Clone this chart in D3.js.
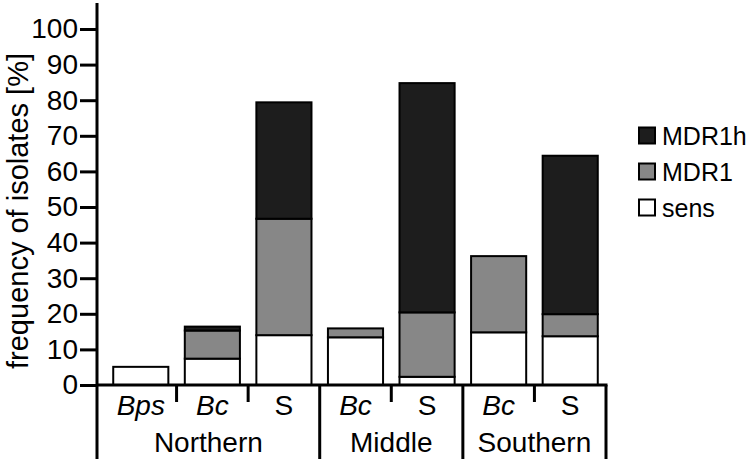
<!DOCTYPE html>
<html><head><meta charset="utf-8">
<script src="https://cdn.jsdelivr.net/npm/d3@7"></script>
<style>body{margin:0;background:#fff}svg{display:block}text{font-family:"Liberation Sans",Arial,sans-serif;fill:#000}</style>
</head><body><svg id="c" width="750" height="464"></svg>
<script>
const categories = ["Bps","Bc","S","Bc","S","Bc","S"];
const groups = ["Northern","Northern","Northern","Middle","Middle","Southern","Southern"];
const sens  = [5.1, 7.4, 14.0, 13.4, 2.3, 14.8, 13.7];
const mdr1  = [0, 7.9, 32.7, 2.5, 18.1, 21.4, 6.2];
const mdr1h = [0, 1.1, 32.7, 0, 64.4, 0, 44.5];
const yTicks = [0,10,20,30,40,50,60,70,80,90,100];
const seriesNames = ["sens","MDR1","MDR1h"];
const colors = {sens:"#ffffff", MDR1:"#878787", MDR1h:"#1d1d1d"};

const svg = d3.select("#c");
const x = d3.scaleBand().domain(d3.range(categories.length)).range([105, 606]).paddingInner(0.23).paddingOuter(0.115);
const y = d3.scaleLinear().domain([0,100]).range([385, 29]);

const rows = categories.map((c,i)=>({sens:sens[i], MDR1:mdr1[i], MDR1h:mdr1h[i]}));
const stack = d3.stack().keys(seriesNames)(rows);

// bars
stack.forEach(layer=>{
  svg.append("g").selectAll("rect").data(layer.map((d,i)=>({d,i}))).join("rect")
    .filter(o=>o.d[1]-o.d[0]>0)
    .attr("x",o=>x(o.i)).attr("width",x.bandwidth())
    .attr("y",o=>y(o.d[1])).attr("height",o=>y(o.d[0])-y(o.d[1]))
    .attr("fill",colors[layer.key]).attr("stroke","#000").attr("stroke-width",2);
});

// y axis
const yAxis = svg.append("g").attr("transform","translate(97,0)")
  .call(d3.axisLeft(y).tickValues(yTicks).tickSize(17).tickPadding(2));
yAxis.select(".domain").remove();
yAxis.selectAll(".tick line").attr("stroke","#000").attr("stroke-width",3);
yAxis.selectAll(".tick text").style("font-size","28px").attr("font-family",null);
svg.append("line").attr("x1",97).attr("x2",97).attr("y1",3).attr("y2",459).attr("stroke","#000").attr("stroke-width",3);

// x baseline
const xEnd = x.range()[1];
svg.append("line").attr("x1",96).attr("x2",xEnd+1.5).attr("y1",y(0)).attr("y2",y(0)).attr("stroke","#000").attr("stroke-width",3);

// separators
const step = x.step();
for(let i=0;i<categories.length;i++){
  const sx = x(i)+x.bandwidth()+(step-x.bandwidth())/2;
  const isGroupEnd = i===categories.length-1 || groups[i]!==groups[i+1];
  svg.append("line").attr("x1",sx).attr("x2",sx).attr("y1",y(0)).attr("y2",isGroupEnd?459:402)
    .attr("stroke","#000").attr("stroke-width",3);
}

// category labels
svg.append("g").selectAll("text").data(categories).join("text")
  .attr("x",(d,i)=>x(i)+x.bandwidth()/2).attr("y",415)
  .attr("text-anchor","middle").style("font-size","28px")
  .style("font-style",d=>d==="S"?"normal":"italic").text(d=>d);

// group labels
const groupNames = Array.from(new Set(groups));
groupNames.forEach(g=>{
  const idx = groups.map((v,i)=>v===g?i:-1).filter(i=>i>=0);
  const left = idx[0]===0 ? 97 : x(idx[0]) - (step-x.bandwidth())/2;
  const right = x(idx[idx.length-1]) + x.bandwidth() + (step-x.bandwidth())/2;
  svg.append("text").attr("x",(left+right)/2).attr("y",452).attr("text-anchor","middle")
    .style("font-size","28px").text(g);
});

// y label
svg.append("text").attr("transform","translate(28,211) rotate(-90)").attr("text-anchor","middle")
  .style("font-size","29px").text("frequency of isolates [%]");

// legend
const legendItems = ["MDR1h","MDR1","sens"];
const lg = svg.append("g");
legendItems.forEach((k,i)=>{
  const cy = 135.5 + i*36;
  lg.append("rect").attr("x",639).attr("y",cy-8).attr("width",16).attr("height",16)
    .attr("fill",colors[k]).attr("stroke","#000").attr("stroke-width",2);
  lg.append("text").attr("x",662).attr("y",cy).attr("dy","0.36em").style("font-size","25px").text(k);
});
</script></body></html>
